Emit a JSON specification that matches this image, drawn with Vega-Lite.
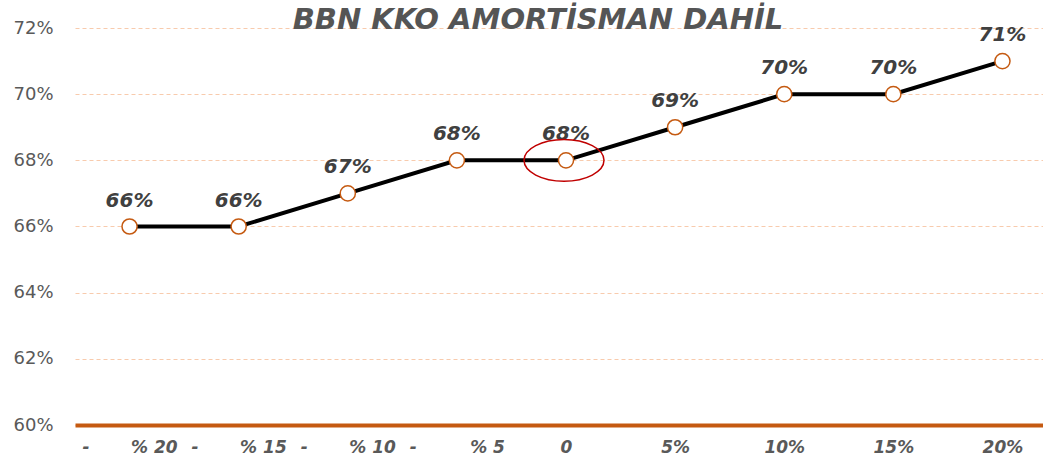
{
  "$schema": "https://vega.github.io/schema/vega-lite/v6.json",
  "width": 982,
  "height": 397,
  "autosize": {"type": "none"},
  "padding": {"left": 75, "top": 28, "right": -14, "bottom": 40},
  "background": "white",
  "config": {"view": {"stroke": null}},
  "title": {
    "text": "BBN KKO AMORTİSMAN DAHİL",
    "font": "DejaVu Sans",
    "fontSize": 29,
    "fontWeight": "bold",
    "fontStyle": "italic",
    "color": "#555555",
    "anchor": "middle",
    "frame": "group",
    "dx": -28,
    "offset": -4,
    "baseline": "alphabetic",
    "dy": 35
  },
  "data": {
    "values": [
      {"senaryo": "-\u00a0\u00a0\u00a0\u00a0\u00a0\u00a0\u00a0% 20", "oran": 0.66},
      {"senaryo": "-\u00a0\u00a0\u00a0\u00a0\u00a0\u00a0\u00a0% 15", "oran": 0.66},
      {"senaryo": "-\u00a0\u00a0\u00a0\u00a0\u00a0\u00a0\u00a0% 10", "oran": 0.67},
      {"senaryo": "-\u00a0\u00a0\u00a0\u00a0\u00a0\u00a0\u00a0\u00a0\u00a0% 5", "oran": 0.68},
      {"senaryo": "0", "oran": 0.68},
      {"senaryo": "5%", "oran": 0.69},
      {"senaryo": "10%", "oran": 0.70},
      {"senaryo": "15%", "oran": 0.70},
      {"senaryo": "20%", "oran": 0.71}
    ]
  },
  "encoding": {
    "x": {
      "field": "senaryo",
      "type": "ordinal",
      "sort": null,
      "scale": {"type": "point", "padding": 0.5},
      "axis": {
        "title": null,
        "labelAngle": 0,
        "domainColor": "#c55a11",
        "domainWidth": 4,
        "ticks": false,
        "grid": false,
        "labelPadding": 14,
        "labelFont": "DejaVu Sans",
        "labelFontSize": 17,
        "labelFontWeight": "bold",
        "labelFontStyle": "italic",
        "labelColor": "#595959",
        "zindex": 1
      }
    },
    "y": {
      "field": "oran",
      "type": "quantitative",
      "scale": {"domain": [0.6, 0.72], "nice": false, "zero": false},
      "axis": {
        "title": null,
        "values": [0.6, 0.62, 0.64, 0.66, 0.68, 0.7, 0.72],
        "format": ".0%",
        "domain": false,
        "ticks": false,
        "grid": true,
        "gridColor": "#f8cbad",
        "gridDash": [4, 3],
        "gridWidth": 1,
        "labelPadding": 22,
        "labelFont": "DejaVu Sans",
        "labelFontSize": 18,
        "labelColor": "#595959"
      }
    }
  },
  "layer": [
    {"mark": {"type": "line", "color": "#000000", "strokeWidth": 4}},
    {"mark": {"type": "point", "filled": true, "fill": "#ffffff", "stroke": "#c55a11", "strokeWidth": 1.5, "size": 230, "opacity": 1}},
    {
      "mark": {"type": "text", "dy": -26, "font": "DejaVu Sans", "fontSize": 20, "fontWeight": "bold", "fontStyle": "italic", "color": "#404040"},
      "encoding": {"text": {"field": "oran", "type": "quantitative", "format": ".0%"}}
    },
    {
      "transform": [{"filter": "datum.senaryo === '0'"}],
      "mark": {"type": "point", "shape": "M -1 0 A 1 0.52 0 1 0 1 0 A 1 0.52 0 1 0 -1 0 Z", "size": 6400, "filled": false, "stroke": "#c00000", "strokeWidth": 1.5, "opacity": 1, "xOffset": -2}
    }
  ]
}
